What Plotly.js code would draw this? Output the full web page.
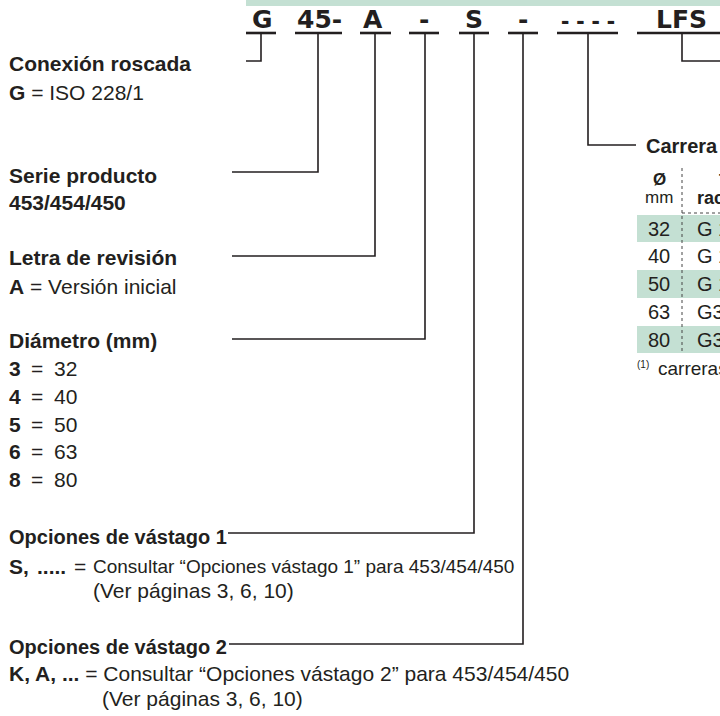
<!DOCTYPE html>
<html>
<head>
<meta charset="utf-8">
<script src="https://cdn.plot.ly/plotly-3.0.1.min.js"></script>
<style>html,body{margin:0;padding:0;background:#fff;}#chart{width:720px;height:716px;}</style>
</head>
<body>
<div id="chart"></div>
<script>
// ---------- data ----------
const codeSegments = ["G", "45-", "A", "-", "S", "-", "- - - -", "LFS"];
const headings = ["Conexión roscada", "Serie producto", "Letra de revisión", "Diámetro (mm)", "Opciones de vástago 1", "Opciones de vástago 2"];
const connectionText = ["<b>G</b> = ISO 228/1"];
const seriesText = ["<b>453/454/450</b>"];
const revisionText = ["<b>A</b> = Versión inicial"];
const diameterKeys = ["3", "4", "5", "6", "8"];
const diameterValues = ["32", "40", "50", "63", "80"];
const rod1Keys = ["S,", "....."];
const rod1Text = ["Consultar “Opciones vástago 1” para 453/454/450", "(Ver páginas 3, 6, 10)"];
const rod2Text = ["<b>K, A, ...</b> = Consultar “Opciones vástago 2” para 453/454/450", "(Ver páginas 3, 6, 10)"];
const strokeTitle = ["Carrera"];
const tableHeader = ["Ø", "mm", "Tamaño", "racor"];
const tableDiameters = ["32", "40", "50", "63", "80"];
const tablePorts = ["G 1/8", "G 1/4", "G 1/4", "G3/8", "G3/8"];
const footnote = ["(1)", "carreras"];

// ---------- layout geometry (pixel space) ----------
const INK = "#231f20";
const GREEN = "#c4e0d3";
const FONT = "Liberation Sans, Arial, Helvetica, sans-serif";
const WIDE = "DejaVu Sans, Liberation Sans, sans-serif";
const codeX = [262, 319, 373, 424, 474, 523, 588, 681];
const underlines = [[246,276],[295,342],[360,391],[409,439],[459,489],[508,538],[557,618],[637,722]];
const lineY = 33;
const connectors = [
  [[261,33],[261,61],[246,61]],
  [[318,33],[318,172],[232,172]],
  [[375,33],[375,256],[232,256]],
  [[425,33],[425,339],[232,339]],
  [[474,33],[474,533],[228,533]],
  [[523,33],[523,644],[229,644]],
  [[588,33],[588,145],[636,145]],
  [[682,33],[682,61],[722,61]]
];
const headingY = [63, 175, 257, 340, 537, 647];
const diamRowY = [368, 396, 424, 451, 479];
const tableRowY = [229, 256, 284, 312, 340];
const tableRowBands = [[215,242],[270,298],[326,353]];

function seg(list) {
  const xs = [], ys = [];
  list.forEach(pts => { pts.forEach(p => { xs.push(p[0]); ys.push(p[1]); }); xs.push(null); ys.push(null); });
  return {xs, ys};
}
const ul = seg(underlines.map(u => [[u[0], lineY], [u[1], lineY]]));
const cn = seg(connectors);

const traces = [
  {x: ul.xs, y: ul.ys, mode: "lines", line: {color: INK, width: 2.6}, hoverinfo: "skip", showlegend: false},
  {x: cn.xs, y: cn.ys, mode: "lines", line: {color: INK, width: 1.6}, hoverinfo: "skip", showlegend: false},
  {x: [682, 682], y: [168, 353], mode: "lines", line: {color: "#444", width: 1, dash: "dot"}, hoverinfo: "skip", showlegend: false},
  {x: [682, 722], y: [213, 213], mode: "lines", line: {color: "#444", width: 1, dash: "dot"}, hoverinfo: "skip", showlegend: false}
];

const shapes = [
  {type: "rect", xref: "x", yref: "y", x0: 246, x1: 722, y0: -2, y1: 6, fillcolor: GREEN, line: {width: 0}, layer: "below"}
];
tableRowBands.forEach(b => shapes.push({type: "rect", xref: "x", yref: "y", x0: 637, x1: 722, y0: b[0], y1: b[1], fillcolor: GREEN, line: {width: 0}, layer: "below"}));

const annotations = [];
function ann(x, y, text, size, opts) {
  opts = opts || {};
  annotations.push({
    x: x, y: y, xref: "x", yref: "y", text: text, showarrow: false,
    xanchor: opts.anchor || "left", yanchor: "middle",
    font: {family: opts.family || FONT, size: size, color: INK},
    borderpad: 0
  });
}
// code segments
codeSegments.forEach((t, i) => {
  const dashes = t.indexOf(" ") >= 0;
  ann(codeX[i], 19.5, "<b>" + t + "</b>", 25, {anchor: "center", family: dashes ? FONT : WIDE});
});
// headings
headings.forEach((h, i) => ann(8, headingY[i], "<b>" + h + "</b>", i >= 4 ? 20 : 21));
ann(8, 92, connectionText[0], 21);
ann(8, 202, seriesText[0], 21);
ann(8, 286, revisionText[0], 21);
diameterKeys.forEach((k, i) => {
  ann(8, diamRowY[i], "<b>" + k + "</b>", 21);
  ann(37, diamRowY[i], "=", 21, {anchor: "center"});
  ann(53, diamRowY[i], diameterValues[i], 21);
});
ann(8, 566, "<b>" + rod1Keys[0] + "</b>", 21);
ann(36, 566, "<b>" + rod1Keys[1] + "</b>", 21);
ann(80, 566, "=", 21, {anchor: "center"});
ann(92, 566, rod1Text[0], 19);
ann(92, 590, rod1Text[1], 21);
ann(8, 673, rod2Text[0], 21);
ann(101, 698, rod2Text[1], 21);
// table
ann(645, 146, "<b>" + strokeTitle[0] + "</b>", 20);
ann(659, 179, "<b>" + tableHeader[0] + "</b>", 17, {anchor: "center"});
ann(659, 197, tableHeader[1], 17, {anchor: "center"});
ann(718, 180, "<b>" + tableHeader[2] + "</b>", 16);
ann(696, 198, "<b>" + tableHeader[3] + "</b>", 18);
tableDiameters.forEach((d, i) => {
  ann(659, tableRowY[i], d, 20, {anchor: "center"});
  ann(696, tableRowY[i], tablePorts[i], 20);
});
ann(636, 364, footnote[0], 10);
ann(657, 368, footnote[1], 19);

const layout = {
  width: 720, height: 716,
  margin: {l: 0, r: 0, t: 0, b: 0, pad: 0},
  paper_bgcolor: "#ffffff", plot_bgcolor: "#ffffff",
  xaxis: {range: [0, 720], visible: false, fixedrange: true},
  yaxis: {range: [716, 0], visible: false, fixedrange: true},
  shapes: shapes,
  annotations: annotations,
  showlegend: false
};
Plotly.newPlot("chart", traces, layout, {staticPlot: true, displayModeBar: false});
</script>
</body>
</html>
